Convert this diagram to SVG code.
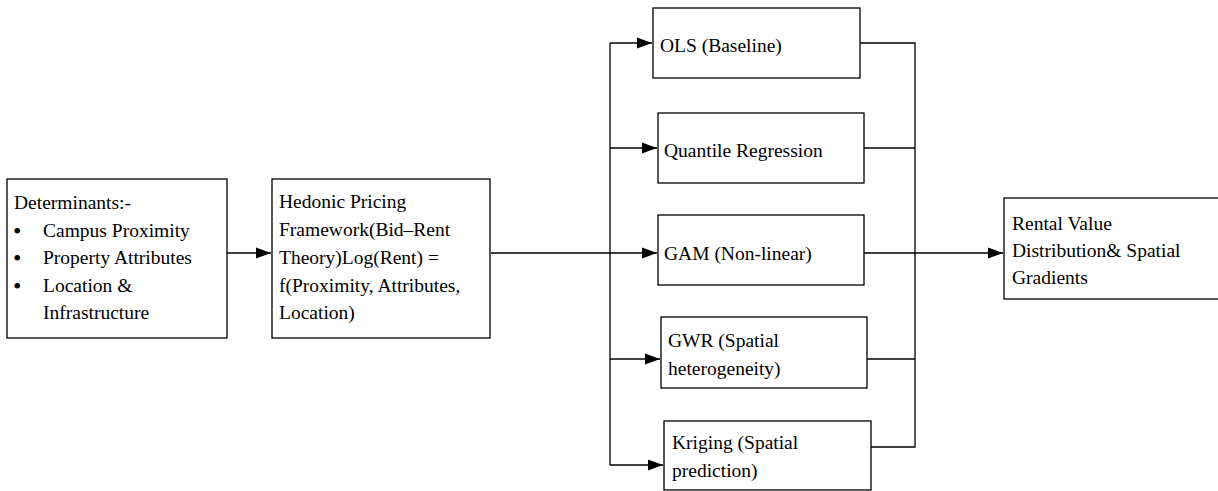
<svg xmlns="http://www.w3.org/2000/svg" width="1218" height="491" viewBox="0 0 1218 491">
<style>
.box{fill:#fff;stroke:#000;stroke-width:1.3}
.t{font-family:'Liberation Serif','Times New Roman',Times,'DejaVu Serif','Noto Serif',serif;font-size:19.5px;fill:#000}
.b{font-family:'Liberation Serif','Times New Roman',Times,'DejaVu Serif',serif;font-size:24px;fill:#000}
.c{fill:none;stroke:#000;stroke-width:1.3}
</style>
<defs>
<marker id="ah" markerUnits="userSpaceOnUse" markerWidth="16" markerHeight="12" refX="15" refY="6" orient="auto">
<path d="M0,0.5 L15,6 L0,11.5 Z" fill="#000"/>
</marker>
</defs>
<rect width="1218" height="491" fill="#fff"/>
<g id="connectors">
<path class="c" d="M227,253 H271" marker-end="url(#ah)"/>
<path class="c" d="M491,253 H657" marker-end="url(#ah)"/>
<path class="c" d="M610,43 V465"/>
<path class="c" d="M610,43 H652" marker-end="url(#ah)"/>
<path class="c" d="M610,148 H657" marker-end="url(#ah)"/>
<path class="c" d="M610,359 H660" marker-end="url(#ah)"/>
<path class="c" d="M610,465 H663" marker-end="url(#ah)"/>
<path class="c" d="M860,43 H915 V447 H871"/>
<path class="c" d="M864,148 H915"/>
<path class="c" d="M867,359 H915"/>
<path class="c" d="M864,253 H1003" marker-end="url(#ah)"/>
</g>
<g id="determinants">
<rect class="box" x="7" y="179" width="220" height="159"/>
<text class="t" x="14" y="209" font-family="Liberation Serif, serif">Determinants:-</text>
<text class="b" x="13" y="239">•</text>
<text class="t" x="43" y="237">Campus Proximity</text>
<text class="b" x="13" y="266">•</text>
<text class="t" x="43" y="264">Property Attributes</text>
<text class="b" x="13" y="294">•</text>
<text class="t" x="43" y="292">Location &amp;</text>
<text class="t" x="43" y="319">Infrastructure</text>
</g>
<g id="hedonic">
<rect class="box" x="272" y="179" width="218" height="159"/>
<text class="t" x="279" y="208">Hedonic Pricing</text>
<text class="t" x="279" y="236">Framework(Bid–Rent</text>
<text class="t" x="279" y="264">Theory)Log(Rent) =</text>
<text class="t" x="279" y="292">f(Proximity, Attributes,</text>
<text class="t" x="279" y="319">Location)</text>
</g>
<g id="ols">
<rect class="box" x="653" y="8" width="207" height="70"/>
<text class="t" x="660" y="52">OLS (Baseline)</text>
</g>
<g id="quantile">
<rect class="box" x="658" y="113" width="206" height="70"/>
<text class="t" x="664" y="157">Quantile Regression</text>
</g>
<g id="gam">
<rect class="box" x="658" y="215" width="206" height="70"/>
<text class="t" x="664" y="260">GAM (Non-linear)</text>
</g>
<g id="gwr">
<rect class="box" x="661" y="317" width="206" height="71"/>
<text class="t" x="668" y="347">GWR (Spatial</text>
<text class="t" x="668" y="375">heterogeneity)</text>
</g>
<g id="kriging">
<rect class="box" x="664" y="421" width="207" height="69"/>
<text class="t" x="672" y="449">Kriging (Spatial</text>
<text class="t" x="672" y="477">prediction)</text>
</g>
<g id="rental">
<rect class="box" x="1004" y="198" width="220" height="101"/>
<text class="t" x="1012" y="230">Rental Value</text>
<text class="t" x="1012" y="257">Distribution&amp; Spatial</text>
<text class="t" x="1012" y="284">Gradients</text>
</g>
</svg>
